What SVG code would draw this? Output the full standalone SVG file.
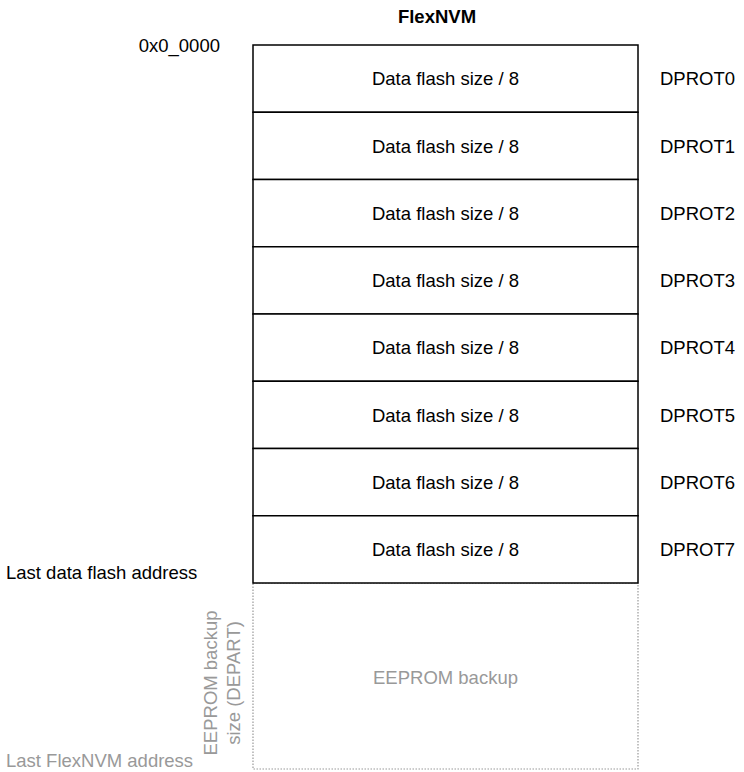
<svg xmlns="http://www.w3.org/2000/svg" width="744" height="772" viewBox="0 0 744 772">
<style>
text{font-family:"Liberation Sans",Arial,sans-serif;font-size:18.5px;fill:#000}
.c{text-anchor:middle}
.g{fill:#999}
.box{fill:#fff;stroke:#000;stroke-width:1.5}
.dot{fill:none;stroke:#999;stroke-width:1.2;stroke-dasharray:1.5 1.5}
</style>
<rect width="744" height="772" fill="#fff"/>
<text x="437" y="23" class="c" font-weight="bold">FlexNVM</text>
<text x="220" y="52" text-anchor="end">0x0_0000</text>
<text x="6" y="579">Last data flash address</text>
<text x="6" y="767" class="g">Last FlexNVM address</text>
<g id="eeprom">
<rect class="dot" x="253" y="583" width="385" height="186"/>
<text x="445.5" y="684" class="c g">EEPROM backup</text>
<text transform="translate(217,683) rotate(-90)" class="c g"><tspan x="0" y="0">EEPROM backup</tspan><tspan x="0" y="23">size (DEPART)</tspan></text>
</g>
<g id="r0"><rect class="box" x="253" y="45" width="385" height="67.25"/><text x="445.5" y="85" class="c">Data flash size / 8</text><text x="660" y="85">DPROT0</text></g>
<g id="r1"><rect class="box" x="253" y="112.25" width="385" height="67.25"/><text x="445.5" y="152.5" class="c">Data flash size / 8</text><text x="660" y="152.5">DPROT1</text></g>
<g id="r2"><rect class="box" x="253" y="179.5" width="385" height="67.25"/><text x="445.5" y="219.5" class="c">Data flash size / 8</text><text x="660" y="219.5">DPROT2</text></g>
<g id="r3"><rect class="box" x="253" y="246.75" width="385" height="67.25"/><text x="445.5" y="287" class="c">Data flash size / 8</text><text x="660" y="287">DPROT3</text></g>
<g id="r4"><rect class="box" x="253" y="314" width="385" height="67.25"/><text x="445.5" y="354" class="c">Data flash size / 8</text><text x="660" y="354">DPROT4</text></g>
<g id="r5"><rect class="box" x="253" y="381.25" width="385" height="67.25"/><text x="445.5" y="421.5" class="c">Data flash size / 8</text><text x="660" y="421.5">DPROT5</text></g>
<g id="r6"><rect class="box" x="253" y="448.5" width="385" height="67.25"/><text x="445.5" y="488.5" class="c">Data flash size / 8</text><text x="660" y="488.5">DPROT6</text></g>
<g id="r7"><rect class="box" x="253" y="515.75" width="385" height="67.25"/><text x="445.5" y="556" class="c">Data flash size / 8</text><text x="660" y="556">DPROT7</text></g>
</svg>
